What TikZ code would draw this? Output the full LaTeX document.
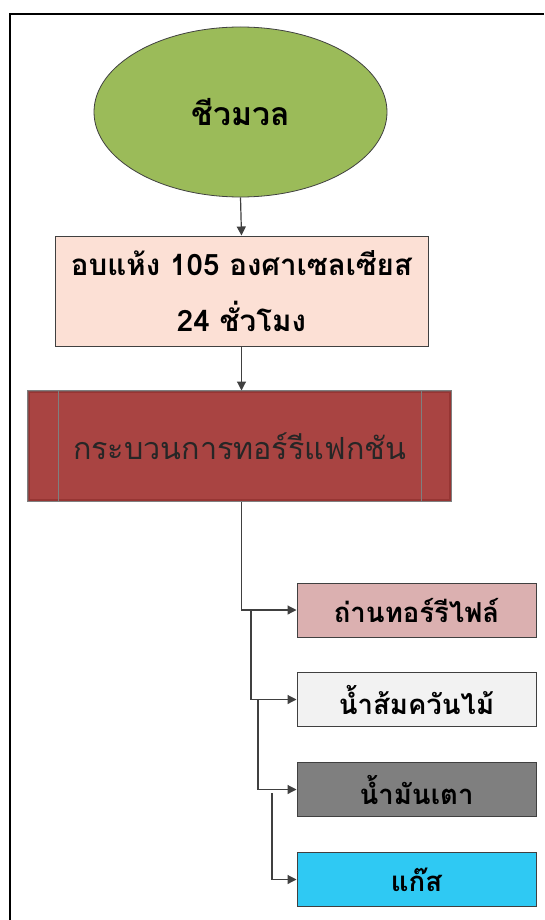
\documentclass[tikz,border=0pt]{standalone}
\usepackage{fontspec}
\newfontfamily\thaifont[Script=Thai]{Loma}
\usetikzlibrary{shapes.geometric,arrows.meta,calc}
\definecolor{edgegray}{HTML}{404040}
\definecolor{biogreen}{HTML}{9BBB59}
\definecolor{peach}{HTML}{FCE0D5}
\definecolor{procred}{HTML}{A94442}
\definecolor{procdark}{HTML}{8A2B2A}
\definecolor{charpink}{HTML}{DBB0B0}
\definecolor{vinwhite}{HTML}{F2F2F2}
\definecolor{oilgray}{HTML}{7F7F7F}
\definecolor{gascyan}{HTML}{2FC9F3}
\begin{document}
\begin{tikzpicture}[x=1pt,y=-1pt,
  conn/.style={draw=edgegray,line width=1.2pt,-{Triangle[length=9pt,width=9pt]}},
  outbox/.style={rectangle,draw=edgegray,line width=1pt,minimum width=239pt,minimum height=54pt,
    font=\thaifont\bfseries\fontsize{27.5}{32}\selectfont,inner sep=0pt}
]
\useasboundingbox (0,0) rectangle (544,920);
\fill[white] (0,0) rectangle (544,920);
% frame
\draw[line width=1.8pt,black] (10,920) -- (10,14) -- (544,14);

\node[ellipse,draw=edgegray,line width=0.8pt,fill=biogreen,minimum width=293pt,minimum height=170pt,
  font=\thaifont\bfseries\fontsize{32}{38}\selectfont] (bio) at (240.5,112) {ชีวมวล};

\node[rectangle,draw=edgegray,line width=1pt,fill=peach,minimum width=373pt,minimum height=110pt,
  align=center,font=\thaifont\bfseries\fontsize{29.5}{56}\selectfont] (dry) at (241.5,291)
  {อบแห้ง 105 องศาเซลเซียส\\24 ชั่วโมง};

\node[rectangle,draw=oilgray,line width=1pt,fill=procred,minimum width=423pt,minimum height=110pt,
  text=black!85,font=\thaifont\fontsize{30.5}{36}\selectfont] (proc) at (239.5,446) {กระบวนการทอร์รีแฟกชัน};
\draw[procdark,line width=2.5pt,opacity=0.6] ($(proc.north west)+(1.5,1.5)$) rectangle ($(proc.south east)+(-1.5,-1.5)$);
\draw[oilgray,line width=1pt] (proc.north west) rectangle (proc.south east);
\draw[oilgray,line width=1pt] (58,391) -- (58,501) (421,391) -- (421,501);

\node[outbox,fill=charpink] (char) at (416.5,610) {ถ่านทอร์รีไฟล์};
\node[outbox,fill=vinwhite] (vin) at (416.5,699.5) {น้ำส้มควันไม้};
\node[outbox,fill=oilgray] (oil) at (416.5,789.5) {น้ำมันเตา};
\node[outbox,fill=gascyan] (gas) at (416.5,879.5) {แก๊ส};

\draw[conn] (bio.south) -- (dry.north);
\draw[conn] (dry.south) -- (dry.south |- proc.north);
\draw[conn] (dry.south |- proc.south) |- (char.west);
\coordinate (j1) at (251,610);
\coordinate (j2) at (258,699.5);
\coordinate (j3) at (272,793);
\draw[conn] (j1) |- (vin.west);
\draw[conn] (j2) |- (oil.west);
\draw[conn] (j3) |- (gas.west);
\end{tikzpicture}
\end{document}
